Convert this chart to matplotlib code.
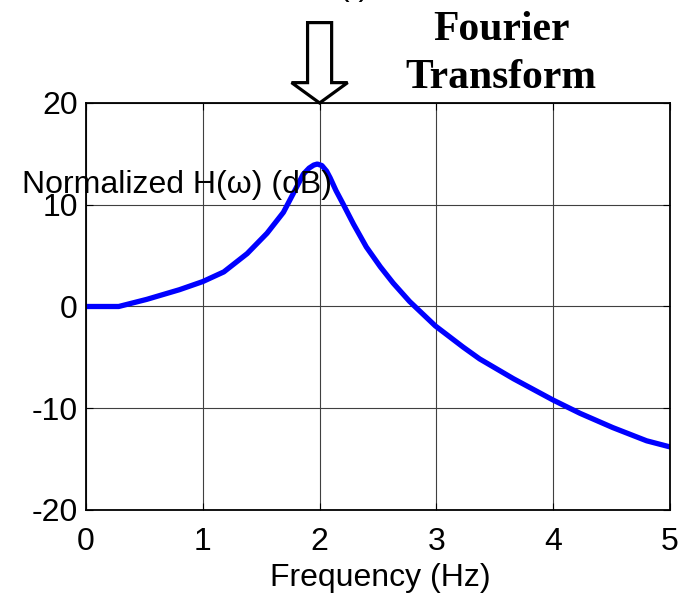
import matplotlib.pyplot as plt
from matplotlib.patches import Polygon

plt.rcParams['font.family'] = ['Liberation Sans', 'DejaVu Sans']
plt.rcParams['axes.unicode_minus'] = False

# values
freq = [0.0, 0.28, 0.52, 0.80, 1.0, 1.18, 1.38, 1.55, 1.69, 1.77, 1.86, 1.91, 1.95,
        1.98, 2.02, 2.06, 2.09, 2.14, 2.20, 2.29, 2.40, 2.52, 2.63, 2.77, 2.99, 3.23,
        3.37, 3.66, 4.0, 4.23, 4.51, 4.80, 5.0]
gain_db = [0.0, 0.0, 0.7, 1.65, 2.45, 3.4, 5.2, 7.2, 9.25, 11.0, 13.0, 13.6, 13.9,
           14.0, 13.85, 13.3, 12.65, 11.4, 10.1, 8.1, 5.85, 3.9, 2.3, 0.5, -1.9, -4.0,
           -5.15, -7.1, -9.2, -10.5, -11.9, -13.2, -13.8]
xticks = [0, 1, 2, 3, 4, 5]
yticks = [-20, -10, 0, 10, 20]

fig = plt.figure(figsize=(6.82, 5.96), dpi=100)
ax = fig.add_axes([0.1261, 0.1443, 0.8563, 0.6829])

ax.plot(freq, gain_db, color='#0000ff', linewidth=3.8, solid_joinstyle='round')
ax.set_xlim(0, 5)
ax.set_ylim(-20, 20)
ax.set_xticks(xticks)
ax.set_yticks(yticks)
ax.tick_params(direction='in', length=5, labelsize=23, top=True, right=True)
ax.tick_params(axis='x', pad=12)
ax.tick_params(axis='y', pad=6)
ax.grid(True, color='#404040', linewidth=0.8)
for s in ax.spines.values():
    s.set_linewidth(1.3)
    s.set_color('black')

fig.text(380 / 682, 1 - 578 / 596, 'Frequency (Hz)', fontsize=23,
         ha='center', va='center')
# y label sits horizontally, overlapping the plot
fig.text(22 / 682, 1 - 185 / 596, 'Normalized H(\u03c9) (dB)', fontsize=23,
         ha='left', va='center')

# hollow arrow pointing at the peak, in data coords
arrow = Polygon([[1.897, 27.9], [2.103, 27.9], [2.103, 22.0], [2.24, 22.0],
                 [2.0, 20.0], [1.76, 22.0], [1.897, 22.0]],
                closed=True, facecolor='white', edgecolor='black', linewidth=2.3,
                clip_on=False, zorder=5)
ax.add_patch(arrow)

fig.text(501 / 682, 1 - 40 / 596, 'Fourier', fontsize=30, fontweight='bold',
         family='Liberation Serif', ha='center', va='baseline')
fig.text(501 / 682, 1 - 88 / 596, 'Transform', fontsize=30, fontweight='bold',
         family='Liberation Serif', ha='center', va='baseline')
# bottom of the previous panel's label, cut by the edge
fig.text(370 / 682, 1 - 2 / 596, 'h(t)', fontsize=23, ha='right', va='bottom')

fig.savefig('out.png', dpi=100)
